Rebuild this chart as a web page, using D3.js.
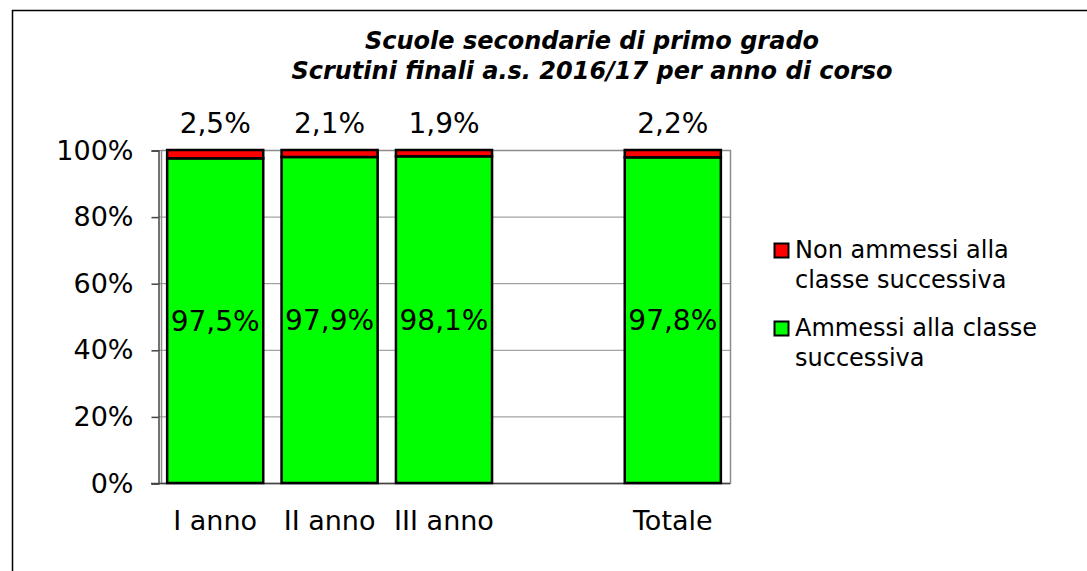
<!DOCTYPE html>
<meta charset="utf-8">
<style>
    body { margin: 0; background: #fff; }
    text { font-family: "DejaVu Sans", Verdana, sans-serif; fill: #000; }
</style>
<script src="https://d3js.org/d3.v7.min.js"></script>
<body>
<script>
    // categories (empty slot before "Totale", as in the original sheet)
    var categories = ["I anno", "II anno", "III anno", "", "Totale"];
    var ammessi    = [97.5, 97.9, 98.1, null, 97.8];
    var nonAmmessi = [2.5, 2.1, 1.9, null, 2.2];
    var yTicks = [0, 20, 40, 60, 80, 100];
    var titleLines = ["Scuole secondarie di primo grado", "Scrutini finali a.s. 2016/17 per anno di corso"];
    var legendItems = [
        { lines: ["Non ammessi alla", "classe successiva"], color: "#ff0000" },
        { lines: ["Ammessi alla classe", "successiva"], color: "#00ff00" }
    ];

    var width = 1087, height = 571;
    var plot = { left: 158, right: 730, top: 150, bottom: 483 };

    var fmt = function(v) { return d3.format(".1f")(v).replace(".", ",") + "%"; };

    var svg = d3.select("body").append("svg")
        .attr("width", width)
        .attr("height", height);

    // outer chart frame (runs off the page at right/bottom)
    svg.append("rect")
        .attr("x", 12.5).attr("y", 10.5)
        .attr("width", 1200).attr("height", 700)
        .attr("fill", "none").attr("stroke", "#000").attr("stroke-width", 1.5);

    var x = d3.scaleBand()
        .domain(d3.range(categories.length))
        .range([plot.left, plot.right])
        .paddingInner(0.16)
        .paddingOuter(0.08);

    var y = d3.scaleLinear().domain([0, 100]).range([plot.bottom, plot.top]);

    // gridlines
    svg.append("g").selectAll("line")
        .data(yTicks.filter(function(d) { return d > 0; }))
        .enter().append("line")
        .attr("x1", plot.left).attr("x2", plot.right)
        .attr("y1", function(d) { return y(d) + 0.5; })
        .attr("y2", function(d) { return y(d) + 0.5; })
        .attr("stroke", "#8c8c8c").attr("stroke-width", 1);

    // plot area border
    svg.append("rect")
        .attr("x", plot.left + 3.5).attr("y", plot.top + 0.5)
        .attr("width", plot.right - plot.left - 3).attr("height", plot.bottom - plot.top)
        .attr("fill", "none").attr("stroke", "#8c8c8c").attr("stroke-width", 1.5);

    // y axis
    var yAxis = d3.axisLeft(y)
        .tickValues(yTicks)
        .tickSize(7)
        .tickPadding(18)
        .tickFormat(function(d) { return d + "%"; });

    var gy = svg.append("g")
        .attr("transform", "translate(" + (plot.left + 0.5) + ",0.5)")
        .call(yAxis);
    gy.select(".domain").attr("stroke", "#444").attr("stroke-width", 1.5);
    gy.selectAll(".tick line").attr("stroke", "#444").attr("stroke-width", 1.5);
    gy.selectAll("text")
        .style("font-family", "'DejaVu Sans', Verdana, sans-serif")
        .style("font-size", "27px")
        .attr("fill", "#000");

    // x baseline
    svg.append("line")
        .attr("x1", plot.left - 7).attr("x2", plot.right)
        .attr("y1", plot.bottom + 0.5).attr("y2", plot.bottom + 0.5)
        .attr("stroke", "#444").attr("stroke-width", 1.5);

    // x category labels
    svg.append("g").selectAll("text")
        .data(categories)
        .enter().append("text")
        .attr("x", function(d, i) { return x(i) + x.bandwidth() / 2; })
        .attr("y", 530)
        .attr("text-anchor", "middle")
        .style("font-size", "27px")
        .text(function(d) { return d; });

    var idx = d3.range(categories.length).filter(function(i) { return ammessi[i] != null; });

    var bars = svg.append("g");
    // green part
    bars.selectAll("rect.amm")
        .data(idx)
        .enter().append("rect")
        .attr("class", "amm")
        .attr("x", function(i) { return x(i); })
        .attr("width", x.bandwidth())
        .attr("y", function(i) { return y(ammessi[i]); })
        .attr("height", function(i) { return y(0) - y(ammessi[i]); })
        .attr("fill", "#00ff00").attr("stroke", "#000").attr("stroke-width", 2.5);
    // red part
    bars.selectAll("rect.non")
        .data(idx)
        .enter().append("rect")
        .attr("class", "non")
        .attr("x", function(i) { return x(i); })
        .attr("width", x.bandwidth())
        .attr("y", function(i) { return y(ammessi[i] + nonAmmessi[i]); })
        .attr("height", function(i) { return y(ammessi[i]) - y(ammessi[i] + nonAmmessi[i]); })
        .attr("fill", "#ff0000").attr("stroke", "#000").attr("stroke-width", 2.5);

    // value labels inside green
    svg.append("g").selectAll("text")
        .data(idx)
        .enter().append("text")
        .attr("x", function(i) { return x(i) + x.bandwidth() / 2; })
        .attr("y", function(i) { return y(ammessi[i] / 2) + 10; })
        .attr("text-anchor", "middle")
        .style("font-size", "28px")
        .text(function(i) { return fmt(ammessi[i]); });

    // value labels above bars
    svg.append("g").selectAll("text")
        .data(idx)
        .enter().append("text")
        .attr("x", function(i) { return x(i) + x.bandwidth() / 2; })
        .attr("y", 133)
        .attr("text-anchor", "middle")
        .style("font-size", "28px")
        .text(function(i) { return fmt(nonAmmessi[i]); });

    // title
    svg.append("g").selectAll("text")
        .data(titleLines)
        .enter().append("text")
        .attr("x", 592)
        .attr("y", function(d, i) { return 49 + i * 30; })
        .attr("text-anchor", "middle")
        .style("font-size", "24px")
        .style("font-weight", "bold")
        .style("font-style", "italic")
        .text(function(d) { return d; });

    // legend
    var leg = svg.append("g").selectAll("g")
        .data(legendItems)
        .enter().append("g")
        .attr("transform", function(d, i) { return "translate(774," + (243 + i * 78) + ")"; });
    leg.append("rect")
        .attr("x", 0.5).attr("y", 0.5).attr("width", 14).attr("height", 14)
        .attr("fill", function(d) { return d.color; })
        .attr("stroke", "#000").attr("stroke-width", 2);
    leg.each(function(d) {
        var t = d3.select(this).append("text")
            .attr("x", 21).attr("y", 15)
            .style("font-size", "24px");
        t.selectAll("tspan")
            .data(d.lines)
            .enter().append("tspan")
            .attr("x", 21)
            .attr("dy", function(l, j) { return j === 0 ? 0 : 30; })
            .text(function(l) { return l; });
    });
</script>
